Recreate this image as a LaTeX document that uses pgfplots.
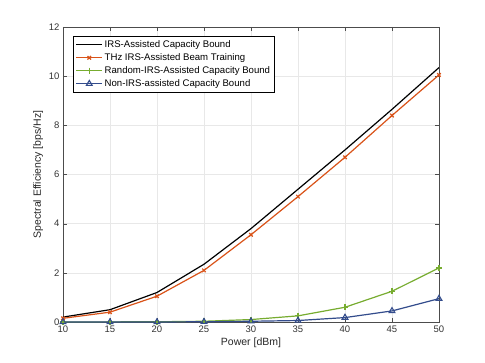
\documentclass[border=0pt]{standalone}
\usepackage{pgfplots}
\pgfplotsset{compat=1.18}
\usepackage{fontspec}
\setmainfont{Liberation Sans}
\definecolor{mOrange}{rgb}{0.85,0.325,0.098}
\definecolor{mGreen}{rgb}{0.466,0.674,0.188}
\definecolor{mBlue}{rgb}{0.2,0.3,0.55}
\begin{document}
\begin{tikzpicture}
\path[use as bounding box] (-63pt,-40pt) rectangle (422pt,322pt);
\begin{axis}[
    at={(0,0)}, anchor=south west,
    width=376pt, height=295pt, scale only axis,
    xmin=10, xmax=50, ymin=0, ymax=12,
    xtick={10,15,...,50}, ytick={0,2,...,12},
    xlabel={Power [dBm]},
    ylabel={Spectral Efficiency [bps/Hz]},
    grid=major,
    major grid style={gray!18},
    axis line style={gray!60!black},
    tick style={gray!60!black},
    tick align=inside,
    ticklabel style={font=\fontsize{9.5}{11}\selectfont, text=black!80},
    label style={font=\fontsize{10.5}{12}\selectfont, text=black!85},
    /pgf/number format/assume math mode=true,
    xlabel style={yshift=1pt},
    ylabel style={yshift=-1pt},
    legend style={at={(0.027,0.97)}, anchor=north west, font=\fontsize{9.6}{11}\selectfont,
        draw=black, line width=0.5pt, inner sep=2.5pt, row sep=0.5pt, cells={anchor=west}},
    legend cell align=left,
    legend image code/.code={\draw[mark repeat=2,mark phase=2,#1] plot coordinates {(0cm,0cm) (0.45cm,0cm) (0.9cm,0cm)};},
    every axis plot/.append style={line width=1.2pt},
]
\addplot[black, no marks] coordinates {
(10,0.2) (15,0.5) (20,1.2) (25,2.35) (30,3.8) (35,5.4) (40,7.0) (45,8.65) (50,10.35)};
\addplot[mOrange, mark=x, mark size=2.5pt] coordinates {
(10,0.15) (15,0.4) (20,1.05) (25,2.1) (30,3.55) (35,5.1) (40,6.7) (45,8.4) (50,10.05)};
\addplot[mGreen, mark=+, mark size=3pt] coordinates {
(10,0.0) (15,0.005) (20,0.01) (25,0.03) (30,0.1) (35,0.25) (40,0.6) (45,1.25) (50,2.2)};
\addplot[mBlue, mark=triangle, mark size=3.3pt, mark options={line width=1.1pt}] coordinates {
(10,0.0) (15,0.0) (20,0.0) (25,0.01) (30,0.03) (35,0.06) (40,0.18) (45,0.45) (50,0.95)};
\legend{IRS-Assisted Capacity Bound, THz IRS-Assisted Beam Training, Random-IRS-Assisted Capacity Bound, Non-IRS-assisted Capacity Bound}
\end{axis}
\end{tikzpicture}
\end{document}
